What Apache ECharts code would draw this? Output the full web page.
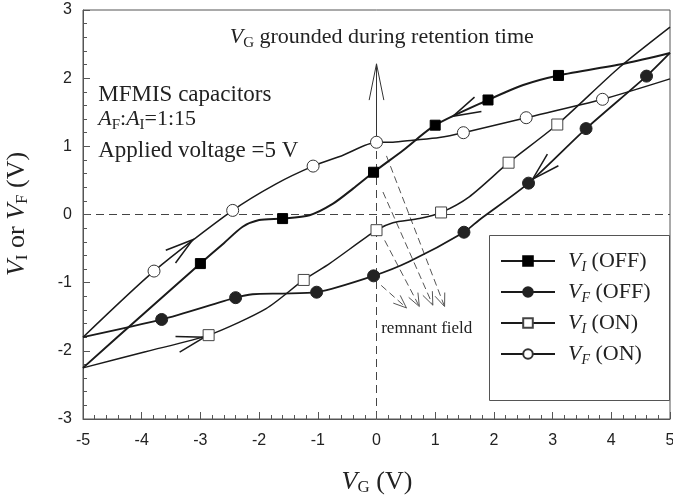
<!DOCTYPE html>
<html>
<head>
<meta charset="utf-8">
<script src="https://cdn.jsdelivr.net/npm/echarts@6/dist/echarts.min.js"></script>
<style>
  html, body { margin: 0; padding: 0; background: #fff; }
  #chart { width: 673px; height: 503px; }
</style>
</head>
<body>
<div id="chart"></div>
<script>
// points with a marker [VG, V]
const vIOffMarks = [[-3, -0.72], [-1.6, -0.06], [-0.05, 0.62], [1.0, 1.31], [1.9, 1.68], [3.1, 2.04]]
const vFOffMarks = [[-3.66, -1.54], [-2.4, -1.22], [-1.02, -1.14], [-0.05, -0.9], [1.49, -0.26], [2.59, 0.46], [3.57, 1.26], [4.6, 2.03]]
const vIOnMarks = [[-2.86, -1.77], [-1.24, -0.96], [0, -0.23], [1.1, 0.03], [2.25, 0.76], [3.08, 1.32]]
const vFOnMarks = [[-3.79, -0.83], [-2.45, 0.06], [-1.08, 0.71], [0, 1.06], [1.48, 1.2], [2.55, 1.42], [3.85, 1.69]]

// points on the curves between the markers (no marker drawn)
const vIOffCurve = [[-5, -2.25], [-4, -1.48], [-2.6, -0.42], [-2.28, -0.18], [-2.0, -0.08], [-1.14, -0.01], [-0.74, 0.16], [-0.4, 0.38], [0.45, 0.94], [2.5, 1.9], [4.25, 2.22], [5, 2.37]]
const vFOffCurve = [[-5, -1.8], [-2.11, -1.17], [-1.6, -1.16], [0.56, -0.69], [1.75, -0.08], [5, 2.37]]
const vIOnCurve = [[-5, -2.25], [-3.92, -2.01], [-1.88, -1.38], [-0.8, -0.72], [0.28, -0.12], [0.73, -0.06], [1.58, 0.26], [4.14, 2.16], [5, 2.75]]
const vFOnCurve = [[-5, -1.8], [-1.71, 0.45], [-0.57, 0.87], [0.28, 1.06], [0.62, 1.09], [1.07, 1.13], [5, 1.99]]

const seriesNames = ['V_I (OFF)', 'V_F (OFF)', 'V_I (ON)', 'V_F (ON)']

const SERIF = '"Liberation Serif", "Times New Roman", serif'
const SANS = '"Liberation Sans", Arial, sans-serif'

const chart = echarts.init(document.getElementById('chart'))

// 合并: 有标记的点 + 无标记的曲线点
function curveData(marks, extra) {
  const all = marks.map((p) => ({ value: p }))
    .concat(extra.map((p) => ({ value: p, symbol: 'none' })))
  all.sort((a, b) => a.value[0] - b.value[0])
  return all
}

function lineSeries(name, marks, extra, symbol, size, fill, border, width) {
  return {
    name: name,
    type: 'line',
    smooth: 0.25,
    symbol: symbol,
    symbolSize: size,
    lineStyle: { color: '#1a1a1a', width: width },
    itemStyle: { color: fill, borderColor: border, borderWidth: 1 },
    emphasis: { disabled: true },
    data: curveData(marks, extra),
  }
}

const axisCommon = {
  type: 'value',
  interval: 1,
  axisLine: { show: true, onZero: false, lineStyle: { color: '#555' } },
  axisTick: { show: true, inside: true, length: 7, lineStyle: { color: '#555' } },
  minorTick: { show: true, splitNumber: 5, length: 4, lineStyle: { color: '#555' } },
  splitLine: { show: false },
}

const option = {
  animation: false,
  grid: { left: 83, right: 3, top: 10, bottom: 84, show: true, borderColor: '#555', borderWidth: 1, outerBoundsMode: 'none' },
  xAxis: Object.assign({}, axisCommon, {
    min: -5,
    max: 5,
    axisLabel: { color: '#222', fontFamily: SANS, fontSize: 16, margin: 14, showMinLabel: true, showMaxLabel: true },
  }),
  yAxis: Object.assign({}, axisCommon, {
    min: -3,
    max: 3,
    axisLabel: { color: '#222', fontFamily: SANS, fontSize: 16, margin: 11, showMinLabel: true, showMaxLabel: true },
  }),
  legend: {
    orient: 'vertical',
    left: 489,
    top: 235,
    padding: [15, 0, 13, 11],
    itemWidth: 54,
    itemHeight: 12,
    itemGap: 7,
    data: seriesNames,
    formatter: function (name) {
      const m = name.match(/^V_(\w) \((\w+)\)$/)
      return '{v|V}{s|' + m[1] + '}{t| (' + m[2] + ')}'
    },
    textStyle: {
      color: '#222',
      fontFamily: SERIF,
      fontSize: 22,
      rich: {
        v: { fontFamily: SERIF, fontSize: 22, fontStyle: 'italic', color: '#222', padding: [0, 0, 0, 8] },
        s: { fontFamily: SERIF, fontSize: 14, fontStyle: 'italic', color: '#222', padding: [12, 0, 0, 0] },
        t: { fontFamily: SERIF, fontSize: 22, color: '#222' },
      },
    },
  },
  series: [
    lineSeries(seriesNames[0], vIOffMarks, vIOffCurve, 'rect', 10, '#000', '#000', 2),
    lineSeries(seriesNames[1], vFOffMarks, vFOffCurve, 'circle', 12, '#222', '#222', 1.8),
    lineSeries(seriesNames[2], vIOnMarks, vIOnCurve, 'rect', 11, '#fff', '#444', 1.5),
    lineSeries(seriesNames[3], vFOnMarks, vFOnCurve, 'circle', 12, '#fff', '#333', 1.5),
  ],
}

chart.setOption(option)

// ---- 注释: 箭头, 虚线, 文字 ----
const px = (p) => chart.convertToPixel({ gridIndex: 0 }, p)

// arrows drawn on the curves (tip, a point behind it on the curve)
const curveArrows = [
  { tip: [-3.13, -0.37], back: [-3.6, -0.68] },
  { tip: [-2.93, -1.8], back: [-3.5, -1.93] },
  { tip: [1.3, 1.44], back: [1.8, 1.645] },
  { tip: [2.66, 0.52], back: [3.2, 0.96] },
]
// dashed "remnant field" arrows [from, to]
const remnantArrows = [
  [[0.17, 0.86], [1.16, -1.35]],
  [[0.11, 0.33], [0.96, -1.33]],
  [[0.14, -0.38], [0.73, -1.35]],
  [[0.08, -1.04], [0.51, -1.37]],
]

function vHead(tip, back, len, half, color, w) {
  const a = px(tip)
  const b = px(back)
  const ang = Math.atan2(b[1] - a[1], b[0] - a[0])
  const p1 = [a[0] + len * Math.cos(ang + half), a[1] + len * Math.sin(ang + half)]
  const p2 = [a[0] + len * Math.cos(ang - half), a[1] + len * Math.sin(ang - half)]
  return { type: 'polyline', silent: true, shape: { points: [p1, a, p2] }, style: { stroke: color, lineWidth: w, fill: null } }
}

function seg(p, q, dash, color, w) {
  const a = px(p)
  const b = px(q)
  return {
    type: 'line', silent: true,
    shape: { x1: a[0], y1: a[1], x2: b[0], y2: b[1] },
    style: { stroke: color, lineWidth: w, lineDash: dash },
  }
}

function label(text, at, size, rich, align) {
  const a = px(at)
  return {
    type: 'text', silent: true,
    x: a[0], y: a[1],
    style: {
      text: text, fill: '#222', fontFamily: SERIF, fontSize: size,
      align: align || 'left', verticalAlign: 'middle', rich: rich,
    },
  }
}

const subRich = (size, sub, italicSub) => ({
  v: { fontFamily: SERIF, fontSize: size, fontStyle: 'italic', fill: '#222' },
  s: { fontFamily: SERIF, fontSize: sub, fontStyle: italicSub ? 'italic' : 'normal', fill: '#222', padding: [12, 0, 0, 0] },
  t: { fontFamily: SERIF, fontSize: size, fill: '#222' },
})

const g = []
// reference lines
g.push(seg([-5, 0], [5, 0], [8, 5], '#444', 1))
g.push(seg([0, -3], [0, 1.0], [8, 5], '#444', 1))
g.push(seg([0, 1.13], [0, 2.21], null, '#333', 1))
g.push(vHead([0, 2.21], [0, 1.5], 37, 0.2, '#333', 1))

curveArrows.forEach((a) => g.push(vHead(a.tip, a.back, 29, 0.28, '#1a1a1a', 1.5)))
remnantArrows.forEach((r) => {
  g.push(seg(r[0], r[1], [7, 4], '#555', 1))
  g.push(vHead(r[1], r[0], 14, 0.38, '#555', 1))
})

g.push(label('{v|V}{s|G}{t| grounded during retention time}', [-2.5, 2.6], 22, subRich(22, 15, false)))
g.push(label('MFMIS capacitors', [-4.74, 1.76], 23))
g.push(label('{v|A}{s|F}{t|:}{v|A}{s|I}{t|=1:15}', [-4.74, 1.4], 22, subRich(22, 15, false)))
g.push(label('Applied voltage =5 V', [-4.74, 0.93], 23))
g.push(label('remnant field', [0.08, -1.68], 17))

// axis names
g.push({
  type: 'text', silent: true, x: 377, y: 482,
  style: { text: '{v|V}{s|G}{t| (V)}', align: 'center', verticalAlign: 'middle', rich: subRich(26, 17, false) },
})
g.push({
  type: 'text', silent: true, x: 17, y: 214, rotation: Math.PI / 2,
  style: { text: '{v|V}{s|I}{t| or }{v|V}{s|F}{t| (V)}', align: 'center', verticalAlign: 'middle', rich: subRich(26, 17, false) },
})

// legend frame
g.push({
  type: 'rect', silent: true, z: -1,
  shape: { x: 489.5, y: 235.5, width: 180, height: 165 },
  style: { stroke: '#555', lineWidth: 1, fill: '#fff' },
})

chart.setOption({ graphic: g })
</script>
</body>
</html>
